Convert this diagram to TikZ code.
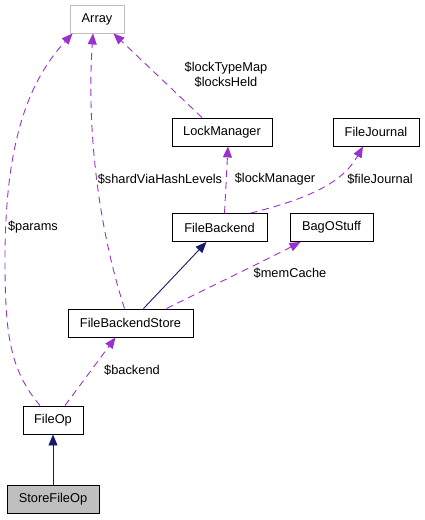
\documentclass[tikz,border=0pt]{standalone}
\usepackage{fontspec}
\setmainfont{Liberation Sans}
\usetikzlibrary{arrows.meta}
\definecolor{edgepurple}{HTML}{9A32CD}
\definecolor{edgenavy}{HTML}{191970}
\definecolor{boxgray}{HTML}{BFBFBF}
\begin{document}
\begin{tikzpicture}[x=1pt, y=-1pt, font=\fontsize{12.8}{15}\selectfont,
  cls/.style={draw=black, line width=0.9pt, inner sep=0pt, minimum height=28pt},
  uses/.style={edgepurple, line width=0.9pt, dash pattern=on 7pt off 5pt, -{Triangle[length=11pt,width=9pt]}},
  inherits/.style={edgenavy, line width=0.9pt, -{Triangle[length=11pt,width=9pt]}}]
  \useasboundingbox (0,0) rectangle (424,520);
  \node[cls, draw=boxgray, minimum width=54pt] (arr) at (97,19) {Array};
  \node[cls, minimum width=100pt] (lockmgr) at (222,132) {LockManager};
  \node[cls, minimum width=86pt] (journal) at (376,132) {FileJournal};
  \node[cls, minimum width=95pt] (backend) at (219.5,227.5) {FileBackend};
  \node[cls, minimum width=83pt] (bag) at (331.5,227.5) {BagOStuff};
  \node[cls, minimum width=125pt] (store) at (130.5,323) {FileBackendStore};
  \node[cls, minimum width=60pt] (fop) at (53,420) {FileOp};
  \node[cls, fill=boxgray, minimum width=92pt] (sfop) at (53,499.5) {StoreFileOp};
  % inheritance
  \draw[inherits] (sfop) -- (fop);
  \draw[inherits] ([xshift=13pt]store.north) -- ([xshift=-13pt]backend.south);
  % members
  \draw[uses] ([xshift=12pt]fop.north) -- ([xshift=-15pt]store.south);
  \node (lbackend) at (132,370) {\$backend};
  \draw[uses] ([xshift=-13pt]fop.north) .. controls (10,370) and (5,335) .. (5,260)
    .. controls (5,150) and (25,85) .. ([xshift=3pt]arr.south west);
  \node (lparams) at (33,227) {\$params};
  \draw[uses] ([xshift=-6pt]store.north) .. controls (96,220) and (87,120) .. ([xshift=-4pt]arr.south);
  \node (lshard) at (160,179) {\$shardViaHashLevels};
  \draw[uses] ([xshift=-20pt]lockmgr.north) -- ([xshift=-11pt]arr.south east);
  \node[align=center, inner sep=0pt] (llock) at (226,75) {\$lockTypeMap\\\$locksHeld};
  \draw[uses] ([xshift=5pt]backend.north) -- ([xshift=6pt]lockmgr.south);
  \node (llockmgr) at (275,179) {\$lockManager};
  \draw[uses] ([xshift=-17pt]backend.north east) .. controls (320,196) and (345,178) .. ([xshift=-13pt]journal.south);
  \node (ljournal) at (380,179) {\$fileJournal};
  \draw[uses] ([xshift=36pt]store.north) .. controls (220,282) and (270,258) .. ([xshift=-31pt]bag.south);
  \node (lmem) at (290,273) {\$memCache};
\end{tikzpicture}
\end{document}
